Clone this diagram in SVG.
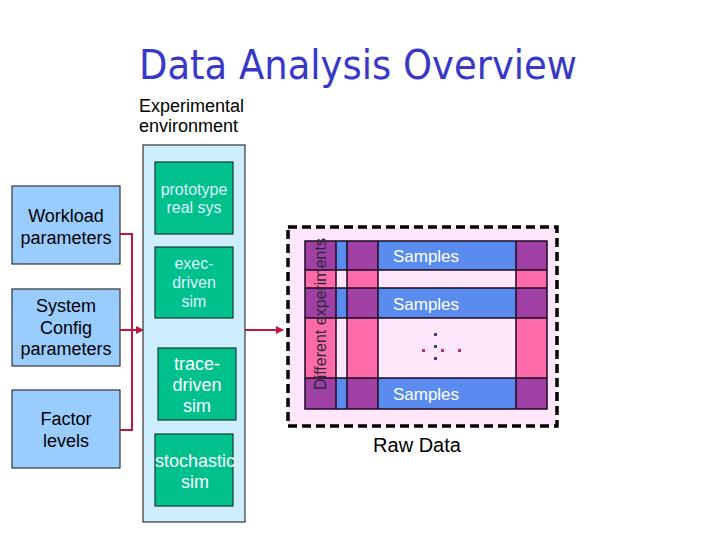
<svg xmlns="http://www.w3.org/2000/svg" width="720" height="540" viewBox="0 0 720 540">
<defs>
<style>
.t{font-family:"Liberation Sans",Arial,sans-serif;}
.param{fill:#99ccff;stroke:#333;stroke-width:1.2;}
.env{fill:#cceeff;stroke:#333;stroke-width:1.2;}
.grn{fill:#00c08c;stroke:#1a3a30;stroke-width:1.2;}
.lbl{font-size:18px;fill:#000;text-anchor:middle;}
.lt{font-size:16px;fill:#ddf2ff;text-anchor:middle;}
.wt{font-size:18px;fill:#fff;text-anchor:middle;}
.conn{stroke:#c0183c;stroke-width:2;fill:none;}
.blue{fill:#5a8cf0;}
.pur{fill:#a040a4;}
.pnk{fill:#ff6aa8;}
.smp{font-size:17px;fill:#fff;text-anchor:middle;}
</style>
<marker id="ah" markerWidth="8" markerHeight="8" refX="7" refY="4" orient="auto" markerUnits="userSpaceOnUse">
<path d="M0,0 L8,4 L0,8 z" fill="#c0183c"/>
</marker>
</defs>
<rect width="720" height="540" fill="#fff"/>
<text x="139" y="79" font-size="40" fill="#3838c8" textLength="438" lengthAdjust="spacingAndGlyphs" style="font-family:'DejaVu Sans',sans-serif">Data Analysis Overview</text>
<text class="t" x="139" y="112" font-size="18">Experimental</text>
<text class="t" x="139" y="132" font-size="18">environment</text>

<g id="connectors">
<polyline class="conn" points="120,234 132,234 132,430 120,430"/>
<line class="conn" x1="120" y1="330" x2="143" y2="330" marker-end="url(#ah)"/>
<line class="conn" x1="245" y1="330" x2="283" y2="330" marker-end="url(#ah)"/>
</g>

<g id="workload">
<rect class="param" x="12" y="186" width="108" height="78"/>
<text class="t lbl" x="66" y="222">Workload</text>
<text class="t lbl" x="66" y="244">parameters</text>
</g>
<g id="sysconfig">
<rect class="param" x="12" y="289" width="108" height="77"/>
<text class="t lbl" x="66" y="312">System</text>
<text class="t lbl" x="66" y="334">Config</text>
<text class="t lbl" x="66" y="355">parameters</text>
</g>
<g id="factor">
<rect class="param" x="12" y="390" width="108" height="78"/>
<text class="t lbl" x="66" y="425">Factor</text>
<text class="t lbl" x="66" y="447">levels</text>
</g>

<g id="environment">
<rect class="env" x="143" y="145" width="102" height="377"/>
</g>
<g id="prototype">
<rect class="grn" x="155" y="162" width="78" height="72"/>
<text class="t lt" x="194" y="195">prototype</text>
<text class="t lt" x="194" y="213">real sys</text>
</g>
<g id="execsim">
<rect class="grn" x="155" y="247" width="78" height="71"/>
<text class="t lt" x="194" y="269">exec-</text>
<text class="t lt" x="194" y="288">driven</text>
<text class="t lt" x="194" y="307">sim</text>
</g>
<g id="tracesim">
<rect class="grn" x="158" y="348" width="78" height="72"/>
<text class="t wt" x="197" y="370">trace-</text>
<text class="t wt" x="197" y="391">driven</text>
<text class="t wt" x="197" y="412">sim</text>
</g>
<g id="stochsim">
<rect class="grn" x="155" y="434" width="78" height="72"/>
<text class="t wt" x="195" y="467">stochastic</text>
<text class="t wt" x="195" y="488">sim</text>
</g>

<g id="rawdata">
<rect x="288" y="227" width="269" height="199" fill="#ffe6fa" stroke="#000" stroke-width="3.5" stroke-dasharray="9 5"/>
<rect class="blue" x="305" y="241" width="242" height="29"/>
<rect class="blue" x="305" y="288" width="242" height="30"/>
<rect class="blue" x="305" y="378" width="242" height="31"/>
<g>
<rect class="pnk" x="305" y="241" width="31" height="168"/>
<rect class="pnk" x="347" y="241" width="31" height="168"/>
<rect class="pnk" x="516" y="241" width="31" height="168"/>
<rect class="pur" x="305" y="241" width="31" height="29"/>
<rect class="pur" x="347" y="241" width="31" height="29"/>
<rect class="pur" x="516" y="241" width="31" height="29"/>
<rect class="pur" x="305" y="288" width="31" height="30"/>
<rect class="pur" x="347" y="288" width="31" height="30"/>
<rect class="pur" x="516" y="288" width="31" height="30"/>
<rect class="pur" x="305" y="378" width="31" height="31"/>
<rect class="pur" x="347" y="378" width="31" height="31"/>
<rect class="pur" x="516" y="378" width="31" height="31"/>
</g>
<g stroke="#1a0820" stroke-width="1.5" fill="none">
<rect x="305" y="241" width="242" height="168"/>
<line x1="305" y1="270" x2="547" y2="270"/>
<line x1="305" y1="288" x2="547" y2="288"/>
<line x1="305" y1="318" x2="547" y2="318"/>
<line x1="305" y1="378" x2="547" y2="378"/>
<line x1="336" y1="241" x2="336" y2="409"/>
<line x1="347" y1="241" x2="347" y2="409"/>
<line x1="378" y1="241" x2="378" y2="409"/>
<line x1="516" y1="241" x2="516" y2="409"/>
</g>
<text class="t" transform="translate(326,314) rotate(-90)" font-size="16" fill="#2a2a3a" text-anchor="middle">Different experiments</text>
<text class="t smp" x="426" y="262">Samples</text>
<text class="t smp" x="426" y="310">Samples</text>
<text class="t smp" x="426" y="400">Samples</text>
<g fill="#404080">
<rect x="434" y="333" width="3" height="3"/>
<rect x="434" y="345" width="3" height="3"/>
<rect x="434" y="357" width="3" height="3"/>
</g>
<g fill="#c03070">
<rect x="422" y="349" width="3" height="3"/>
<rect x="441" y="349" width="3" height="3"/>
<rect x="458" y="349" width="3" height="3"/>
</g>
<text class="t" x="417" y="452" font-size="20" fill="#000" text-anchor="middle">Raw Data</text>
</g>
</svg>
